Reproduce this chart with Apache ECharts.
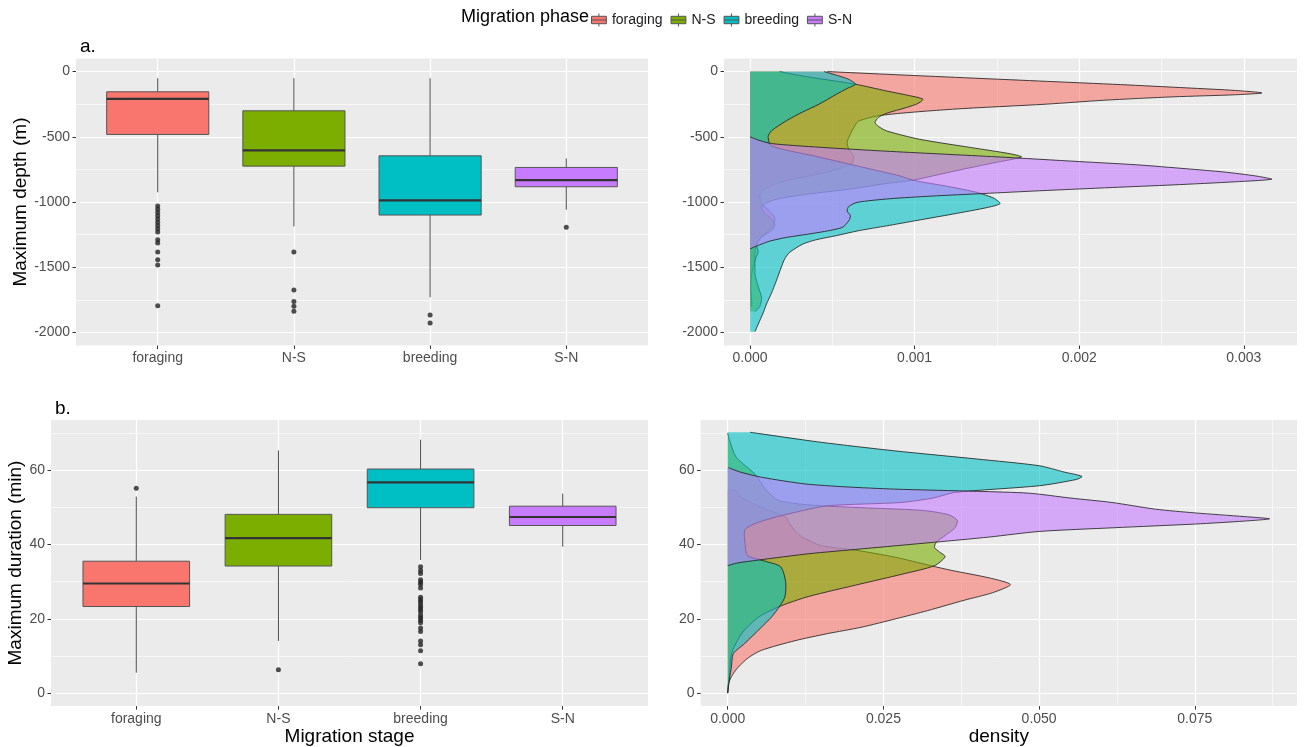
<!DOCTYPE html>
<html>
<head>
<meta charset="utf-8">
<title>Dive depth and duration by migration phase</title>
<script src="https://cdn.jsdelivr.net/npm/echarts@6/dist/echarts.min.js"></script>
<style>
  html, body { margin: 0; padding: 0; background: #ffffff; }
  #chart { width: 1304px; height: 747px; }
</style>
</head>
<body>
<div id="chart"></div>
<script>
// Migration phases and their fill colours
const phases = ['foraging', 'N-S', 'breeding', 'S-N'];
const phaseColors = ['#F8766D', '#7CAE00', '#00BFC4', '#C77CFF'];

// Box summaries per phase: [lower whisker, Q1, median, Q3, upper whisker]
const depthBox = [
  [-926, -482, -209, -155, -51],
  [-1187, -725, -605, -301, -51],
  [-1730, -1100, -988, -646, -51],
  [-1059, -883, -832, -735, -666]
];
const depthOutliers = [
  [-1030, -1055, -1080, -1105, -1130, -1155, -1180, -1205, -1230, -1290, -1315, -1383, -1442, -1482, -1795],
  [-1383, -1674, -1763, -1799, -1838],
  [-1866, -1927],
  [-1194]
];
const durationBox = [
  [5.5, 23.3, 29.5, 35.5, 52.9],
  [14.0, 34.2, 41.7, 48.1, 65.3],
  [35.8, 49.9, 56.7, 60.3, 68.2],
  [39.4, 45.1, 47.4, 50.3, 53.7]
];
const durationOutliers = [
  [55.1],
  [6.3],
  [34.0, 33.0, 32.2, 30.5, 29.8, 29.2, 28.3, 25.8, 25.1, 24.5, 23.8, 23.1, 22.5, 21.8, 20.9, 20.3, 19.6, 18.9, 17.5, 16.6, 14.0, 13.0, 11.4, 7.9],
  []
];

// Depth density curves: [depth (m), density]
const foragingDepthDensity = [
  [0, 0.00047], [-25, 0.0009], [-50, 0.00135], [-75, 0.0018], [-100, 0.00225], [-125, 0.00265],
  [-145, 0.00295], [-164, 0.00311], [-178, 0.00295], [-194, 0.00257], [-220, 0.00215], [-250, 0.0018],
  [-289, 0.00123], [-335, 0.0008], [-380, 0.00066], [-430, 0.00063], [-480, 0.00061], [-540, 0.00059],
  [-595, 0.0006], [-650, 0.00063], [-700, 0.00062], [-740, 0.00055], [-775, 0.00045], [-810, 0.00032],
  [-850, 0.00018], [-900, 0.00009], [-950, 0.00006], [-1010, 0.00007], [-1060, 0.00011], [-1120, 0.00015],
  [-1180, 0.00014], [-1230, 0.0001], [-1300, 0.00005], [-1380, 0.00003], [-1450, 0.00003], [-1550, 0.00001],
  [-1650, 0.000005], [-1750, 0.00001], [-1800, 0.00001]
];
const nsDepthDensity = [
  [0, 0.00018], [-30, 0.0003], [-60, 0.00045], [-97, 0.00064], [-149, 0.00083], [-185, 0.00097],
  [-212, 0.00105], [-245, 0.00102], [-276, 0.00095], [-320, 0.00083], [-352, 0.00078], [-390, 0.00076],
  [-420, 0.00078], [-455, 0.00083], [-519, 0.00103], [-582, 0.00134], [-630, 0.00158], [-654, 0.00165],
  [-700, 0.00148], [-750, 0.00129], [-800, 0.00111], [-833, 0.00099], [-860, 0.00082], [-902, 0.0006],
  [-940, 0.00035], [-979, 0.00016], [-1020, 0.00008], [-1055, 0.00007], [-1100, 0.0001], [-1131, 0.00013],
  [-1170, 0.00015], [-1208, 0.00014], [-1260, 0.00008], [-1320, 0.00004], [-1380, 0.00005], [-1450, 0.00003],
  [-1550, 0.00003], [-1650, 0.00005], [-1731, 0.00007], [-1800, 0.00006], [-1840, 0.00003]
];
const breedingDepthDensity = [
  [0, 0.00045], [-30, 0.00053], [-60, 0.0006], [-97, 0.00064], [-130, 0.00059], [-174, 0.000525],
  [-250, 0.00042], [-310, 0.00032], [-378, 0.00022], [-455, 0.00013], [-500, 0.00011], [-570, 0.00013],
  [-650, 0.0004], [-700, 0.00057], [-750, 0.00074], [-800, 0.00091], [-833, 0.00099], [-880, 0.0012],
  [-927, 0.00138], [-970, 0.00148], [-1011, 0.00152], [-1040, 0.00145], [-1093, 0.00123], [-1140, 0.00102],
  [-1183, 0.00083], [-1220, 0.00066], [-1259, 0.00052], [-1290, 0.0004], [-1323, 0.00032], [-1387, 0.00024],
  [-1438, 0.00021], [-1500, 0.00019], [-1604, 0.00016], [-1700, 0.00013], [-1782, 0.0001], [-1850, 0.00008],
  [-1936, 0.00005], [-1994, 0.00003]
];
const snDepthDensity = [
  [-500, 0], [-525, 0.00005], [-552, 0.00013], [-580, 0.00042], [-610, 0.00082], [-654, 0.0015],
  [-690, 0.002], [-715, 0.00235], [-745, 0.00265], [-770, 0.00288], [-800, 0.00307], [-825, 0.00317],
  [-845, 0.00295], [-869, 0.00257], [-889, 0.0022], [-914, 0.00176], [-935, 0.00142], [-955, 0.0011],
  [-975, 0.00085], [-1003, 0.00065], [-1035, 0.0006], [-1068, 0.00059], [-1105, 0.00061], [-1144, 0.0006],
  [-1195, 0.00056], [-1233, 0.00042], [-1272, 0.00022], [-1300, 0.00012], [-1323, 0.00007], [-1348, 0.00002],
  [-1360, 0]
];

// Duration density curves: [duration (min), density]
const foragingDurationDensity = [
  [0, 0], [2.5, 0.0001], [5, 0.0008], [7, 0.0017], [9.5, 0.0033], [11.5, 0.0054], [14.1, 0.0108],
  [16, 0.016], [17.7, 0.0214], [20, 0.027], [22.2, 0.0321], [25, 0.038], [27, 0.0425], [29.2, 0.0454],
  [31, 0.042], [33, 0.036], [34.3, 0.0326], [36.6, 0.0268], [38.5, 0.0204], [39.7, 0.015], [42, 0.012],
  [43.7, 0.0108], [46, 0.0098], [47.3, 0.0094], [49, 0.007], [51, 0.004], [53, 0.002], [55, 0.001]
];
const nsDurationDensity = [
  [0, 0], [5, 0.0003], [10.6, 0.0006], [15.9, 0.0022], [20.4, 0.0049], [23.5, 0.0086], [26, 0.013],
  [29.4, 0.0214], [32, 0.028], [34.3, 0.0332], [36.7, 0.0349], [38, 0.034], [39.2, 0.0332], [40.6, 0.0335],
  [42.5, 0.035], [44.5, 0.0365], [46.4, 0.0369], [48, 0.0355], [49.2, 0.031], [50, 0.02], [50.8, 0.012],
  [52, 0.008], [55, 0.006], [58.9, 0.0044], [63.4, 0.0014], [67, 0.0005], [70, 0]
];
const breedingDurationDensity = [
  [0, 0], [4, 0.0003], [7, 0.0006], [10.6, 0.0009], [13.3, 0.0027], [17.7, 0.0054], [20.4, 0.007],
  [23.5, 0.0084], [26, 0.0092], [30, 0.0093], [34, 0.0085], [35.5, 0.006], [37, 0.0032], [40, 0.0028],
  [44, 0.0028], [46, 0.005], [48.2, 0.0097], [50.4, 0.0161], [51.3, 0.0278], [52.5, 0.033], [54, 0.0364],
  [55.8, 0.05], [57.5, 0.056], [58.3, 0.0569], [59.5, 0.054], [61.2, 0.05], [63, 0.04], [65.2, 0.0268],
  [67.5, 0.015], [70.2, 0.0036]
];
const snDurationDensity = [
  [34.3, 0], [35, 0.0015], [35.8, 0.0049], [37.5, 0.013], [38.8, 0.0214], [40.6, 0.0332], [42, 0.042],
  [43.5, 0.05], [44.5, 0.062], [45.5, 0.0751], [46.3, 0.083], [46.9, 0.087], [47.5, 0.083], [48.5, 0.075],
  [49.5, 0.0687], [51.3, 0.0617], [52.5, 0.055], [53.8, 0.0484], [54.3, 0.0401], [54.9, 0.0268],
  [55.5, 0.019], [56.3, 0.0124], [58.1, 0.0054], [59.5, 0.002], [60.7, 0.0001]
];

// Tick values
const depthTicks = [-2000, -1500, -1000, -500, 0];
const depthMinorTicks = [-1750, -1250, -750, -250];
const durationTicks = [0, 20, 40, 60];
const durationMinorTicks = [10, 30, 50, 70];
const depthDensityTicks = [0, 0.001, 0.002, 0.003];
const depthDensityMinorTicks = [0.0005, 0.0015, 0.0025];
const durationDensityTicks = [0, 0.025, 0.05, 0.075];
const durationDensityMinorTicks = [0.0125, 0.0375, 0.0625, 0.0875];
const stageTicks = [1, 2, 3, 4];

const FONT = "'Liberation Sans', Arial, Helvetica, sans-serif";
const PANEL_BG = '#EBEBEB';
const BOX_WIDTH = 0.75;

function rgba(hex, a) {
  const n = parseInt(hex.slice(1), 16);
  return 'rgba(' + (n >> 16 & 255) + ',' + (n >> 8 & 255) + ',' + (n & 255) + ',' + a + ')';
}

// Axis builders ------------------------------------------------------------
function majorAxis(gridIndex, min, max, ticks, formatter, extra) {
  return Object.assign({
    type: 'value', gridIndex, min, max,
    axisLine: { show: false, onZero: false },
    axisTick: { show: true, customValues: ticks, length: 3.5, lineStyle: { color: '#333333', width: 1 } },
    axisLabel: {
      show: true, customValues: ticks, formatter, margin: 6,
      color: '#4D4D4D', fontSize: 14, fontFamily: FONT
    },
    splitLine: { show: true, lineStyle: { color: '#FFFFFF', width: 1.2 } }
  }, extra || {});
}
function minorAxis(gridIndex, min, max, ticks) {
  return {
    type: 'value', gridIndex, min, max,
    axisLine: { show: false, onZero: false },
    axisTick: { show: false, customValues: ticks },
    axisLabel: { show: false, customValues: ticks },
    splitLine: { show: true, lineStyle: { color: '#FFFFFF', width: 0.6 } }
  };
}
const nameStyle = { fontSize: 19, color: '#000000', fontFamily: FONT };

const stageLabel = v => phases[Math.round(v) - 1];
const plain = v => String(v);
const fixed3 = v => v.toFixed(3);

// Renderers ----------------------------------------------------------------
function renderBox(params, api) {
  const x = api.value(0);
  const lo = api.coord([x, api.value(1)]);
  const q1 = api.coord([x, api.value(2)]);
  const med = api.coord([x, api.value(3)]);
  const q3 = api.coord([x, api.value(4)]);
  const hi = api.coord([x, api.value(5)]);
  const half = api.size([BOX_WIDTH, 0])[0] / 2;
  const color = phaseColors[Math.round(x) - 1];
  const whisker = { stroke: '#4D4D4D', lineWidth: 1 };
  return {
    type: 'group',
    children: [
      { type: 'line', shape: { x1: hi[0], y1: hi[1], x2: q3[0], y2: q3[1] }, style: whisker },
      { type: 'line', shape: { x1: q1[0], y1: q1[1], x2: lo[0], y2: lo[1] }, style: whisker },
      { type: 'rect', shape: { x: q3[0] - half, y: q3[1], width: half * 2, height: q1[1] - q3[1] },
        style: { fill: color, stroke: '#555555', lineWidth: 1 } },
      { type: 'line', shape: { x1: med[0] - half, y1: med[1], x2: med[0] + half, y2: med[1] },
        style: { stroke: '#333333', lineWidth: 2.2 } }
    ]
  };
}

function densityRenderer(color) {
  return function (params, api) {
    if (params.dataIndexInside !== 0) return null;
    const n = params.dataInsideLength;
    const pts = [];
    for (let i = 0; i < n; i++) pts.push(api.coord([api.value(0, i), api.value(1, i)]));
    const start = api.coord([0, api.value(1, 0)]);
    const end = api.coord([0, api.value(1, n - 1)]);
    const bound = [pts[0].slice(), pts[0].slice()];
    return {
      type: 'group',
      children: [
        { type: 'polygon', shape: { points: [start].concat(pts, [end]), smooth: 0.25, smoothConstraint: bound },
          style: { fill: rgba(color, 0.6), stroke: null } },
        { type: 'polyline', shape: { points: pts, smooth: 0.25, smoothConstraint: bound },
          style: { fill: null, stroke: '#1A1A1A', lineWidth: 0.8 } }
      ]
    };
  };
}

function boxSeries(xAxisIndex, yAxisIndex, boxes) {
  return {
    type: 'custom', xAxisIndex, yAxisIndex, clip: true, silent: true,
    renderItem: renderBox,
    encode: { x: 0, y: [1, 2, 3, 4, 5] },
    data: boxes.map((b, i) => [i + 1].concat(b)),
    z: 2
  };
}
function outlierSeries(xAxisIndex, yAxisIndex, outliers) {
  const data = [];
  outliers.forEach((list, i) => list.forEach(v => data.push([i + 1, v])));
  return {
    type: 'scatter', xAxisIndex, yAxisIndex, silent: true,
    symbol: 'circle', symbolSize: 5,
    itemStyle: { color: '#222222' },
    data, z: 3
  };
}
function densitySeries(name, colorIndex, xAxisIndex, yAxisIndex, pairs) {
  return {
    name, type: 'custom', xAxisIndex, yAxisIndex, clip: true, silent: true,
    itemStyle: { color: phaseColors[colorIndex] },
    renderItem: densityRenderer(phaseColors[colorIndex]),
    encode: { x: 0, y: 1 },
    data: pairs.map(p => [p[1], p[0]]),
    z: 2
  };
}

// Panel geometry
const gridDepthBox = { left: 76, right: 656, top: 58.5, bottom: 401.5 };
const gridDepthDens = { left: 724, right: 7, top: 58.5, bottom: 401.5 };
const gridDurBox = { left: 51, right: 656, top: 420, bottom: 40 };
const gridDurDens = { left: 700.6, right: 7, top: 420, bottom: 40 };

const grids = [gridDepthBox, gridDepthDens, gridDurBox, gridDurDens].map(g => Object.assign({
  show: true, backgroundColor: PANEL_BG, borderWidth: 0, containLabel: false
}, g));

const keyIcon = 'path://M0,3L16,3L16,11L0,11Z M0,7L16,7 M8,0L8,3 M8,11L8,14';

const option = {
  animation: false,
  backgroundColor: '#FFFFFF',
  textStyle: { fontFamily: FONT },
  title: [
    { text: 'Migration phase', left: 456, top: 3, textStyle: { fontSize: 18, fontWeight: 'normal', color: '#000000', fontFamily: FONT } },
    { text: 'a.', left: 75, top: 32, textStyle: { fontSize: 19, fontWeight: 'normal', color: '#000000', fontFamily: FONT } },
    { text: 'b.', left: 50, top: 394, textStyle: { fontSize: 19, fontWeight: 'normal', color: '#000000', fontFamily: FONT } }
  ],
  legend: {
    left: 586, top: 8, orient: 'horizontal',
    itemWidth: 16, itemHeight: 13, itemGap: 8, selectedMode: false,
    textStyle: { fontSize: 14, color: '#1A1A1A', fontFamily: FONT },
    data: phases.map((p, i) => ({
      name: p, icon: keyIcon,
      itemStyle: { color: phaseColors[i], borderColor: '#555555', borderWidth: 1 }
    }))
  },
  grid: grids,
  xAxis: [
    majorAxis(0, 0.4, 4.6, stageTicks, stageLabel),
    majorAxis(1, -0.000158, 0.003323, depthDensityTicks, fixed3),
    minorAxis(1, -0.000158, 0.003323, depthDensityMinorTicks),
    majorAxis(2, 0.4, 4.6, stageTicks, stageLabel, {
      name: 'Migration stage', nameLocation: 'middle', nameGap: 20, nameTextStyle: nameStyle
    }),
    majorAxis(3, -0.00435, 0.0914, durationDensityTicks, fixed3, {
      name: 'density', nameLocation: 'middle', nameGap: 20, nameTextStyle: nameStyle
    }),
    minorAxis(3, -0.00435, 0.0914, durationDensityMinorTicks)
  ],
  yAxis: [
    majorAxis(0, -2100, 100, depthTicks, plain, {
      name: 'Maximum depth (m)', nameLocation: 'middle', nameGap: 46, nameTextStyle: nameStyle
    }),
    minorAxis(0, -2100, 100, depthMinorTicks),
    majorAxis(1, -2100, 100, depthTicks, plain),
    minorAxis(1, -2100, 100, depthMinorTicks),
    majorAxis(2, -3.5, 73.5, durationTicks, plain, {
      name: 'Maximum duration (min)', nameLocation: 'middle', nameGap: 22, nameTextStyle: nameStyle
    }),
    minorAxis(2, -3.5, 73.5, durationMinorTicks),
    majorAxis(3, -3.5, 73.5, durationTicks, plain),
    minorAxis(3, -3.5, 73.5, durationMinorTicks)
  ],
  series: [
    boxSeries(0, 0, depthBox),
    outlierSeries(0, 0, depthOutliers),
    densitySeries('foraging', 0, 1, 2, foragingDepthDensity),
    densitySeries('N-S', 1, 1, 2, nsDepthDensity),
    densitySeries('breeding', 2, 1, 2, breedingDepthDensity),
    densitySeries('S-N', 3, 1, 2, snDepthDensity),
    boxSeries(3, 4, durationBox),
    outlierSeries(3, 4, durationOutliers),
    densitySeries('foraging', 0, 4, 6, foragingDurationDensity),
    densitySeries('N-S', 1, 4, 6, nsDurationDensity),
    densitySeries('breeding', 2, 4, 6, breedingDurationDensity),
    densitySeries('S-N', 3, 4, 6, snDurationDensity)
  ]
};

const chart = echarts.init(document.getElementById('chart'), null, { renderer: 'canvas' });
chart.setOption(option);
</script>
</body>
</html>
